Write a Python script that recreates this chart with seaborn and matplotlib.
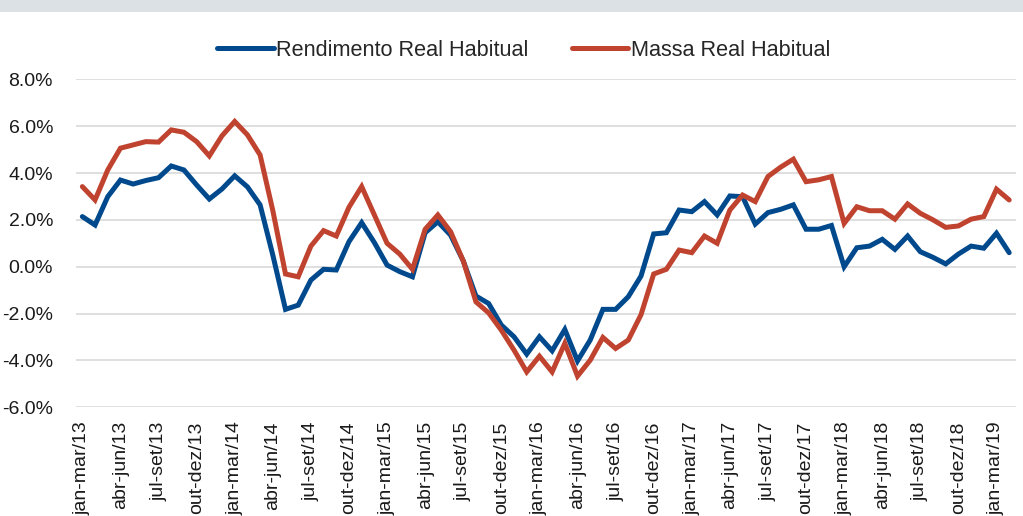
import matplotlib
matplotlib.use("Agg")
import matplotlib.pyplot as plt
from matplotlib import font_manager
from matplotlib.lines import Line2D
from matplotlib.patches import Rectangle
import seaborn as sns
import pandas as pd

# ---------------- data ----------------
months = ["jan", "fev", "mar", "abr", "mai", "jun", "jul", "ago", "set", "out", "nov", "dez"]
start_year = 2013
n_points = 74
categories = []
for k in range(n_points):
    m0 = k % 12
    m2 = (k + 2) % 12
    yy = (start_year + (k + 2) // 12) % 100
    categories.append(f"{months[m0]}-{months[m2]}/{yy:02d}")

rendimento = [
    2.14, 1.78, 2.99, 3.70, 3.53, 3.68, 3.80, 4.30, 4.13, 3.49,
    2.89, 3.32, 3.88, 3.41, 2.64, 0.50, -1.82, -1.64, -0.57, -0.11,
    -0.14, 1.07, 1.88, 1.03, 0.07, -0.21, -0.43, 1.45, 1.92, 1.35,
    0.25, -1.25, -1.57, -2.49, -2.99, -3.73, -2.99, -3.59, -2.68, -4.02,
    -3.13, -1.82, -1.82, -1.28, -0.40, 1.40, 1.45, 2.42, 2.35, 2.78,
    2.21, 3.02, 2.99, 1.82, 2.31, 2.45, 2.64, 1.60, 1.60, 1.76,
    0.00, 0.81, 0.88, 1.17, 0.74, 1.31, 0.64, 0.40, 0.12, 0.54,
    0.88, 0.79, 1.43, 0.60,
]
massa = [
    3.42, 2.85, 4.13, 5.06, 5.20, 5.34, 5.32, 5.84, 5.74, 5.34,
    4.73, 5.59, 6.20, 5.63, 4.77, 2.40, -0.31, -0.43, 0.88, 1.54,
    1.31, 2.54, 3.42, 2.21, 1.00, 0.54, -0.11, 1.60, 2.21, 1.50,
    0.25, -1.50, -1.97, -2.71, -3.56, -4.49, -3.82, -4.49, -3.27, -4.67,
    -3.99, -3.02, -3.49, -3.13, -2.05, -0.31, -0.11, 0.71, 0.60, 1.31,
    1.00, 2.42, 3.06, 2.78, 3.85, 4.25, 4.59, 3.63, 3.71, 3.85,
    1.85, 2.56, 2.39, 2.39, 2.03, 2.68, 2.28, 2.00, 1.68, 1.74,
    2.03, 2.14, 3.31, 2.85,
]
series_names = ["Rendimento Real Habitual", "Massa Real Habitual"]
colors = ["#00498D", "#C0432F"]
y_ticks = [-6.0, -4.0, -2.0, 0.0, 2.0, 4.0, 6.0, 8.0]

df = pd.DataFrame({
    "idx": list(range(n_points)) * 2,
    "valor": rendimento + massa,
    "serie": [series_names[0]] * n_points + [series_names[1]] * n_points,
})

# ---------------- fonts ----------------
def has_font(name):
    try:
        font_manager.findfont(font_manager.FontProperties(family=name),
                              fallback_to_default=False)
        return True
    except Exception:
        return False

narrow = has_font("Liberation Sans Narrow")
if narrow:
    fam = ["Liberation Sans Narrow", "DejaVu Sans"]
    tick_fs, leg_fs = 16.5, 19
else:
    fam = ["Liberation Sans", "DejaVu Sans"]
    tick_fs, leg_fs = 14, 15.6

# ---------------- figure ----------------
sns.set_theme(style="white")
plt.rcParams["font.family"] = fam
plt.rcParams["axes.unicode_minus"] = False

fig = plt.figure(figsize=(10.23, 5.16), dpi=100)
ax = fig.add_axes([0.0743, 0.2107, 0.9927 - 0.0743, 0.8463 - 0.2107])

# top grey band
fig.patches.append(Rectangle((0, 1 - 12 / 516), 1, 12 / 516, transform=fig.transFigure,
                             facecolor="#DCE1E6", edgecolor="none", zorder=0))

sns.lineplot(data=df, x="idx", y="valor", hue="serie", palette=colors,
             hue_order=series_names, linewidth=3.6, ax=ax, legend=False,
             solid_joinstyle="miter")

ax.set_xlim(-0.5, n_points - 0.5)
ax.set_ylim(-6, 8)
ax.set_yticks(y_ticks)
ax.set_yticklabels([f"{v:.1f}%" for v in y_ticks], fontsize=tick_fs, color="#1A1A1A")
tick_pos = list(range(0, n_points, 3))
ax.set_xticks(tick_pos)
ax.set_xticklabels([categories[i] for i in tick_pos], rotation=90, fontsize=tick_fs,
                   color="#1A1A1A")
ax.tick_params(axis="y", length=0, pad=16.5)
ax.tick_params(axis="x", length=0, pad=10)
ax.set_xlabel("")
ax.set_ylabel("")
ax.grid(axis="y", color="#D9D9D9", linewidth=1.2)
ax.grid(axis="x", visible=False)
for s in ax.spines.values():
    s.set_visible(False)
ax.set_axisbelow(True)

# legend
handles = [Line2D([0], [0], color=c, linewidth=3.6) for c in colors]
fig.legend(handles, series_names, loc="center", bbox_to_anchor=(0.512, 0.903),
           ncol=2, frameon=False, fontsize=leg_fs, handlelength=2.6,
           handletextpad=0.12, columnspacing=2.0)

fig.savefig("out.png", dpi=100)
